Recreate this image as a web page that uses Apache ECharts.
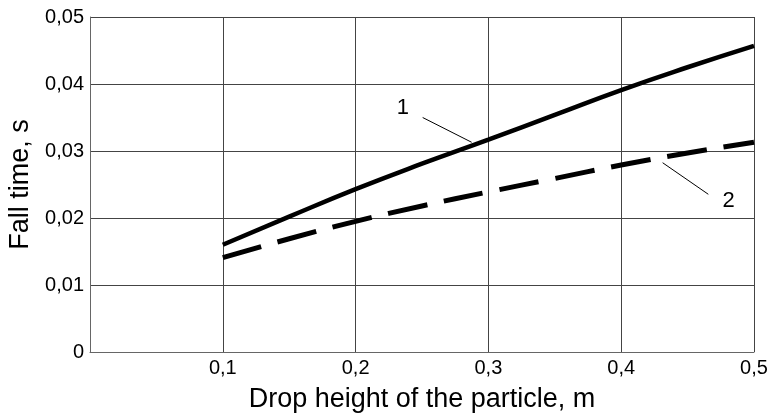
<!DOCTYPE html>
<html>
<head>
<meta charset="utf-8">
<script src="https://cdn.jsdelivr.net/npm/echarts@6/dist/echarts.min.js"></script>
<style>
  html, body { margin: 0; padding: 0; background: #fff; }
  #chart { width: 767px; height: 413px; }
</style>
</head>
<body>
<div id="chart"></div>
<script>
// drop height (m) and fall time (s)
var heights = [0.1, 0.15, 0.2, 0.25, 0.3, 0.35, 0.4, 0.45, 0.5];
var curve1 = [0.0160, 0.0202, 0.0243, 0.0281, 0.0317, 0.0354, 0.0391, 0.0425, 0.0457];
var curve2 = [0.0141, 0.0169, 0.0195, 0.0218, 0.0239, 0.0259, 0.0279, 0.0297, 0.0313];

// callout leaders and numbers (data coords)
var leader1 = [[0.2505, 0.0350], [0.2874, 0.0313]];
var label1 = [0.2355, 0.0364];
var leader2 = [[0.4312, 0.02825], [0.4656, 0.02354]];
var label2 = [0.4809, 0.0226];

var xTicks = [0, 0.1, 0.2, 0.3, 0.4, 0.5];
var yTicks = [0, 0.01, 0.02, 0.03, 0.04, 0.05];

function pairs(xs, ys) {
    return xs.map(function (x, i) { return [x, ys[i]]; });
}

var chart = echarts.init(document.getElementById('chart'));
var font = 'Liberation Sans';

var option = {
    animation: false,
    backgroundColor: '#fff',
    grid: { left: 90, right: 13, top: 17, bottom: 61, outerBoundsMode: 'none' },
    xAxis: {
        type: 'value',
        min: xTicks[0],
        max: xTicks[xTicks.length - 1],
        interval: 0.1,
        name: 'Drop height of the particle, m',
        nameLocation: 'middle',
        nameGap: 34,
        nameTextStyle: { fontFamily: font, fontSize: 27, color: '#000' },
        axisLine: { lineStyle: { color: '#666', width: 1 } },
        axisTick: { show: false },
        axisLabel: {
            fontFamily: font, fontSize: 20, color: '#000', margin: 6,
            formatter: function (v) { return v === 0 ? '' : v.toFixed(1).replace('.', ','); }
        },
        splitLine: { show: true, lineStyle: { color: '#444', width: 1 } }
    },
    yAxis: {
        type: 'value',
        min: yTicks[0],
        max: yTicks[yTicks.length - 1],
        interval: 0.01,
        name: 'Fall time, s',
        nameLocation: 'middle',
        nameGap: 56,
        nameTextStyle: { fontFamily: font, fontSize: 27, color: '#000' },
        axisLine: { show: true, lineStyle: { color: '#666', width: 1 } },
        axisTick: { show: false },
        axisLabel: {
            fontFamily: font, fontSize: 20, color: '#000', margin: 6,
            formatter: function (v) { return v === 0 ? '0' : v.toFixed(2).replace('.', ','); }
        },
        splitLine: { show: true, lineStyle: { color: '#444', width: 1 } }
    },
    series: [
        {
            name: '1',
            type: 'line',
            smooth: true,
            symbol: 'none',
            data: pairs(heights, curve1),
            lineStyle: { color: '#000', width: 4.5, cap: 'butt' },
            markLine: {
                silent: true,
                symbol: 'none',
                label: { show: false },
                lineStyle: { color: '#000', width: 1, type: 'solid' },
                data: [[{ coord: leader1[0] }, { coord: leader1[1] }]]
            },
            markPoint: {
                silent: true,
                symbol: 'circle',
                symbolSize: 1,
                itemStyle: { color: 'rgba(0,0,0,0)' },
                label: { show: true, position: 'inside', formatter: '1', fontFamily: font, fontSize: 22, color: '#000' },
                data: [{ coord: label1 }]
            }
        },
        {
            name: '2',
            type: 'line',
            smooth: true,
            symbol: 'none',
            data: pairs(heights, curve2),
            lineStyle: { color: '#000', width: 5, type: [40, 17], cap: 'butt' },
            markLine: {
                silent: true,
                symbol: 'none',
                label: { show: false },
                lineStyle: { color: '#000', width: 1, type: 'solid' },
                data: [[{ coord: leader2[0] }, { coord: leader2[1] }]]
            },
            markPoint: {
                silent: true,
                symbol: 'circle',
                symbolSize: 1,
                itemStyle: { color: 'rgba(0,0,0,0)' },
                label: { show: true, position: 'inside', formatter: '2', fontFamily: font, fontSize: 22, color: '#000' },
                data: [{ coord: label2 }]
            }
        }
    ]
};

chart.setOption(option);
</script>
</body>
</html>
